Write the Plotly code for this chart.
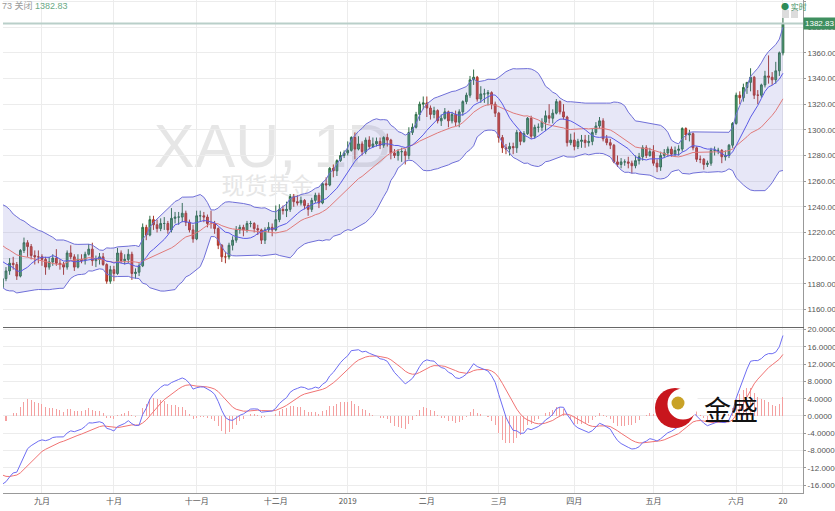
import plotly.graph_objects as go
import pandas as pd

# ---------------- data (XAU/USD daily) ----------------
# closes before the first visible bar (Jun 1 - Aug 15 2018), used only to warm up indicators
prior_closes = [1294, 1292, 1295, 1298, 1298, 1298, 1299, 1294, 1299, 1302, 1278, 1279, 1275, 1268,
                1263, 1270, 1267, 1258, 1252, 1248, 1253,
                1242, 1253, 1253, 1257, 1255, 1258, 1255, 1246, 1245, 1241, 1240, 1227, 1224, 1224,
                1231, 1224, 1227, 1231, 1223, 1222, 1220, 1223,
                1218, 1213, 1214, 1208, 1209, 1212, 1211, 1212, 1194, 1193, 1174]

# (open, high, low, close) per trading day
aug_2018 = [(1174, 1185, 1167, 1177), (1177, 1188, 1173, 1184), (1184, 1193, 1182, 1190), (1190, 1200, 1187, 1196),
            (1196, 1201, 1191, 1195), (1195, 1197, 1183, 1186), (1186, 1207, 1185, 1206), (1206, 1216, 1204, 1212),
            (1212, 1214, 1201, 1209), (1209, 1211, 1199, 1202), (1202, 1206, 1195, 1201), (1201, 1206, 1196, 1201)]
sep_2018 = [(1201, 1203, 1194, 1199), (1199, 1201, 1187, 1193), (1193, 1201, 1191, 1197), (1197, 1203, 1194, 1200),
            (1200, 1207, 1194, 1196), (1196, 1199, 1191, 1195), (1195, 1197, 1187, 1193), (1193, 1206, 1191, 1204),
            (1204, 1210, 1199, 1201), (1201, 1203, 1190, 1193), (1193, 1203, 1192, 1199), (1199, 1203, 1196, 1198),
            (1198, 1205, 1195, 1203), (1203, 1211, 1202, 1207), (1207, 1212, 1194, 1198), (1198, 1202, 1193, 1199),
            (1199, 1204, 1195, 1201), (1201, 1204, 1194, 1195), (1195, 1196, 1180, 1182), (1182, 1194, 1180, 1191)]
oct_2018 = [(1191, 1194, 1182, 1188), (1188, 1208, 1187, 1204), (1204, 1206, 1196, 1198), (1198, 1203, 1195, 1199),
            (1199, 1207, 1196, 1203), (1203, 1205, 1183, 1188), (1188, 1192, 1184, 1189), (1189, 1196, 1186, 1194),
            (1194, 1227, 1193, 1224), (1224, 1226, 1214, 1218), (1218, 1233, 1217, 1230), (1230, 1233, 1222, 1226),
            (1226, 1230, 1220, 1223), (1223, 1231, 1221, 1227), (1227, 1232, 1222, 1227), (1227, 1229, 1219, 1222),
            (1222, 1239, 1220, 1231), (1231, 1236, 1227, 1232), (1232, 1236, 1226, 1232), (1232, 1243, 1228, 1235),
            (1235, 1237, 1225, 1228), (1228, 1230, 1220, 1222), (1222, 1226, 1212, 1215)]
nov_2018 = [(1215, 1237, 1214, 1233), (1233, 1237, 1229, 1233), (1233, 1236, 1228, 1232), (1232, 1234, 1224, 1227),
            (1227, 1237, 1223, 1227), (1227, 1229, 1219, 1223), (1223, 1224, 1207, 1210), (1210, 1211, 1197, 1201),
            (1201, 1205, 1196, 1201), (1201, 1212, 1199, 1210), (1210, 1217, 1206, 1214), (1214, 1225, 1212, 1222),
            (1222, 1226, 1219, 1224), (1224, 1226, 1217, 1222), (1222, 1229, 1220, 1227), (1227, 1229, 1224, 1227),
            (1227, 1228, 1220, 1223), (1223, 1226, 1218, 1222), (1222, 1223, 1211, 1214), (1214, 1224, 1211, 1222),
            (1222, 1228, 1220, 1224), (1224, 1227, 1217, 1222)]
dec_2018 = [(1222, 1241, 1221, 1230), (1230, 1242, 1228, 1238), (1238, 1241, 1234, 1237), (1237, 1244, 1232, 1238),
            (1238, 1250, 1236, 1248), (1248, 1250, 1240, 1244), (1244, 1249, 1241, 1243), (1243, 1248, 1241, 1245),
            (1245, 1246, 1238, 1241), (1241, 1243, 1233, 1238), (1238, 1247, 1236, 1245), (1245, 1251, 1243, 1249),
            (1249, 1251, 1239, 1243), (1243, 1259, 1242, 1258), (1258, 1263, 1253, 1257), (1257, 1271, 1256, 1270),
            (1270, 1273, 1263, 1268), (1268, 1277, 1264, 1276), (1276, 1283, 1275, 1280), (1280, 1284, 1278, 1282)]
jan_2019 = [(1282, 1291, 1280, 1284), (1284, 1295, 1283, 1294), (1294, 1298, 1277, 1285), (1285, 1295, 1284, 1289),
            (1289, 1291, 1280, 1283), (1283, 1294, 1281, 1292), (1292, 1295, 1285, 1287), (1287, 1294, 1286, 1289),
            (1289, 1294, 1287, 1291), (1291, 1294, 1285, 1288), (1288, 1295, 1286, 1294), (1294, 1297, 1287, 1292),
            (1292, 1293, 1277, 1282), (1282, 1285, 1278, 1280), (1280, 1285, 1276, 1283), (1283, 1286, 1275, 1283),
            (1283, 1285, 1273, 1280), (1280, 1302, 1277, 1298), (1298, 1305, 1296, 1302), (1302, 1314, 1301, 1312),
            (1312, 1322, 1307, 1320), (1320, 1326, 1316, 1321)]
feb_2019 = [(1321, 1326, 1310, 1317), (1317, 1319, 1308, 1312), (1312, 1318, 1309, 1315), (1315, 1316, 1305, 1307),
            (1307, 1312, 1303, 1309), (1309, 1317, 1308, 1314), (1314, 1315, 1302, 1307), (1307, 1314, 1305, 1312),
            (1312, 1315, 1303, 1306), (1306, 1316, 1302, 1314), (1314, 1323, 1311, 1322), (1322, 1329, 1320, 1327),
            (1327, 1342, 1325, 1339), (1339, 1347, 1335, 1341), (1341, 1342, 1322, 1324), (1324, 1334, 1321, 1328),
            (1328, 1332, 1321, 1328), (1328, 1331, 1319, 1329), (1329, 1330, 1316, 1320), (1320, 1322, 1310, 1313)]
mar_2019 = [(1313, 1314, 1290, 1294), (1294, 1296, 1282, 1286), (1286, 1289, 1281, 1285), (1285, 1290, 1280, 1287),
            (1287, 1290, 1281, 1286), (1286, 1300, 1282, 1298), (1298, 1299, 1288, 1291), (1291, 1299, 1290, 1297),
            (1297, 1310, 1296, 1309), (1309, 1311, 1293, 1295), (1295, 1304, 1293, 1302), (1302, 1305, 1298, 1302),
            (1302, 1309, 1299, 1306), (1306, 1315, 1299, 1311), (1311, 1320, 1305, 1309), (1309, 1316, 1305, 1313),
            (1313, 1324, 1312, 1322), (1322, 1323, 1312, 1314), (1314, 1320, 1308, 1310), (1310, 1311, 1287, 1290),
            (1290, 1297, 1288, 1292)]
apr_2019 = [(1292, 1298, 1284, 1287), (1287, 1293, 1285, 1291), (1291, 1296, 1286, 1292), (1292, 1296, 1286, 1290),
            (1290, 1296, 1287, 1291), (1291, 1301, 1288, 1298), (1298, 1306, 1296, 1303), (1303, 1310, 1301, 1307),
            (1307, 1309, 1291, 1293), (1293, 1296, 1288, 1290), (1290, 1293, 1285, 1288), (1288, 1289, 1274, 1275),
            (1275, 1280, 1271, 1273), (1273, 1278, 1270, 1275), (1275, 1277, 1272, 1275), (1275, 1279, 1270, 1274),
            (1274, 1276, 1266, 1272), (1272, 1280, 1270, 1276), (1276, 1282, 1273, 1279), (1279, 1288, 1276, 1286),
            (1286, 1288, 1278, 1280), (1280, 1286, 1279, 1283)]
may_2019 = [(1283, 1288, 1272, 1274), (1274, 1277, 1267, 1271), (1271, 1283, 1268, 1280), (1280, 1285, 1278, 1282),
            (1282, 1287, 1279, 1285), (1285, 1287, 1279, 1281), (1281, 1287, 1279, 1284), (1284, 1288, 1280, 1285),
            (1285, 1302, 1283, 1301), (1301, 1302, 1292, 1296), (1296, 1300, 1291, 1297), (1297, 1298, 1284, 1286),
            (1286, 1287, 1275, 1277), (1277, 1280, 1274, 1277), (1277, 1278, 1269, 1273), (1273, 1276, 1271, 1274),
            (1274, 1286, 1272, 1284), (1284, 1287, 1280, 1284), (1284, 1286, 1281, 1284), (1284, 1285, 1274, 1279),
            (1279, 1284, 1276, 1280), (1280, 1289, 1278, 1288), (1288, 1306, 1286, 1305)]
jun_2019 = [(1305, 1329, 1304, 1327), (1327, 1330, 1320, 1325), (1325, 1336, 1322, 1333), (1333, 1337, 1328, 1337),
            (1337, 1348, 1330, 1341), (1341, 1342, 1324, 1327), (1327, 1331, 1320, 1327), (1327, 1336, 1325, 1335),
            (1335, 1346, 1333, 1342), (1342, 1358, 1336, 1341), (1341, 1345, 1335, 1339), (1339, 1353, 1336, 1346),
            (1346, 1361, 1342, 1360), (1360, 1389, 1358, 1382.83)]

months = [aug_2018, sep_2018, oct_2018, nov_2018, dec_2018, jan_2019, feb_2019,
          mar_2019, apr_2019, may_2019, jun_2019]
month_labels = ["九月", "十月", "十一月", "十二月", "2019", "二月", "三月", "四月", "五月", "六月"]
last_day_label = "20"

price_ticks = [1160, 1180, 1200, 1220, 1240, 1260, 1280, 1300, 1320, 1340, 1360, 1380, 1400]
macd_ticks = [-16, -12, -8, -4, 0, 4, 8, 12, 16, 20]

# ---------------- assemble ----------------
bars = [b for m in months for b in m]
opens = [b[0] for b in bars]
highs = [b[1] for b in bars]
lows = [b[2] for b in bars]
closes = [b[3] for b in bars]
xs = list(range(len(bars)))

month_start_idx = []
n = 0
for m in months[:-1]:
    n += len(m)
    month_start_idx.append(n)
tickvals = month_start_idx + [len(bars) - 1]
ticktext = month_labels + [last_day_label]

all_close = pd.Series(prior_closes + closes, dtype=float)
all_x = list(range(-len(prior_closes), len(bars)))
ma20 = all_close.rolling(20).mean()
sd20 = all_close.rolling(20).std(ddof=0)
upper = ma20 + 2 * sd20
lower = ma20 - 2 * sd20
ma10 = all_close.rolling(10).mean()
ema12 = all_close.ewm(span=12, adjust=False).mean()
ema26 = all_close.ewm(span=26, adjust=False).mean()
macd = ema12 - ema26
signal = macd.ewm(span=9, adjust=False).mean()
hist = macd - signal

BAND = "#6f6fd8"
FILL = "rgba(120,120,210,0.18)"
MID = "#e07a7a"

fig = go.Figure()
fig.add_trace(go.Scatter(x=all_x, y=upper, mode="lines", line=dict(color=BAND, width=1),
                         hoverinfo="skip", xaxis="x", yaxis="y"))
fig.add_trace(go.Scatter(x=all_x, y=lower, mode="lines", line=dict(color=BAND, width=1),
                         fill="tonexty", fillcolor=FILL, hoverinfo="skip", xaxis="x", yaxis="y"))
fig.add_trace(go.Scatter(x=all_x, y=ma20, mode="lines", line=dict(color=MID, width=1),
                         hoverinfo="skip", xaxis="x", yaxis="y"))
fig.add_trace(go.Scatter(x=all_x, y=ma10, mode="lines", line=dict(color="#5a5ae6", width=1),
                         hoverinfo="skip", xaxis="x", yaxis="y"))
fig.add_trace(go.Candlestick(x=xs, open=opens, high=highs, low=lows, close=closes,
                             increasing=dict(line=dict(color="#2f6e47", width=1), fillcolor="#4ea56f"),
                             decreasing=dict(line=dict(color="#a8362a", width=1), fillcolor="#e2432f"),
                             whiskerwidth=0, hoverinfo="skip", xaxis="x", yaxis="y"))

fig.add_trace(go.Bar(x=all_x, y=hist, marker=dict(color="#f4a0a0", line=dict(width=0)), width=0.28,
                     hoverinfo="skip", xaxis="x2", yaxis="y2"))
fig.add_trace(go.Scatter(x=all_x, y=signal, mode="lines", line=dict(color="#f07373", width=1),
                         hoverinfo="skip", xaxis="x2", yaxis="y2"))
fig.add_trace(go.Scatter(x=all_x, y=macd, mode="lines", line=dict(color="#6d6df2", width=1),
                         hoverinfo="skip", xaxis="x2", yaxis="y2"))

W, H = 835, 511
ML, MR, MT, MB = 3, 32, 0, 18
PW, PH = W - ML - MR, H - MT - MB
sep_px = 326.5
main_dom = [1 - sep_px / PH, 1]
macd_dom = [0, 1 - (sep_px + 1) / PH]

xr = [(ML + 1.2) / 3.597, (ML + PW + 1.2) / 3.597]
GRID = "#ececec"
AX = "#999999"
tickfont = dict(size=8, color="#555", family="Liberation Sans, Arial, sans-serif")

common_x = dict(range=xr, tickvals=tickvals, showgrid=True, gridcolor=GRID, gridwidth=1,
                zeroline=False, showline=True, linewidth=1, ticks="",
                rangeslider=dict(visible=False), fixedrange=True, automargin=False)
fig.update_layout(
    width=W, height=H, margin=dict(l=ML, r=MR, t=MT, b=MB, autoexpand=False),
    paper_bgcolor="white", plot_bgcolor="white", showlegend=False, hovermode=False,
    bargap=0,
    font=dict(family="Liberation Sans, Noto Sans CJK SC, sans-serif"),
    xaxis=dict(domain=[0, 1], anchor="y", showticklabels=False, linecolor="#666", **common_x),
    xaxis2=dict(domain=[0, 1], anchor="y2", matches="x", ticktext=ticktext, showticklabels=True,
                linecolor=AX,
                tickfont=dict(size=8, color="#555", family="Noto Sans CJK SC, Liberation Sans"), **common_x),
    yaxis=dict(domain=main_dom, anchor="x", side="right", range=[1146.7, 1401.2],
               tickvals=price_ticks, ticktext=[f"{v:.2f}" for v in price_ticks],
               showgrid=True, gridcolor=GRID, zeroline=False, showline=True, linecolor=AX,
               ticks="outside", ticklen=2, tickcolor=AX, tickfont=tickfont, fixedrange=True,
               automargin=False),
    yaxis2=dict(domain=macd_dom, anchor="x2", side="right", range=[-17.85, 20.5],
                tickvals=macd_ticks, ticktext=[f"{v:.4f}" for v in macd_ticks],
                showgrid=True, gridcolor=GRID, zeroline=False, showline=True, linecolor=AX,
                ticks="outside", ticklen=2, tickcolor=AX, tickfont=tickfont, fixedrange=True,
                automargin=False),
)


def px_x(p):
    return (p - ML) / PW


def px_y(p):
    return 1 - (p - MT) / PH


shapes = []
# watermark (below traces)
shapes.append(dict(type="rect", xref="paper", yref="paper", x0=px_x(140), x1=px_x(405),
                   y0=px_y(170), y1=px_y(110), line=dict(width=0), fillcolor="rgba(0,0,0,0)", layer="below",
                   label=dict(text="XAU, 1D", font=dict(size=61, color="#e6e6e6", family="Liberation Sans"),
                              textposition="middle center")))
shapes.append(dict(type="rect", xref="paper", yref="paper", x0=px_x(200), x1=px_x(335),
                   y0=px_y(202), y1=px_y(174), line=dict(width=0), fillcolor="rgba(0,0,0,0)", layer="below",
                   label=dict(text="现货黄金", font=dict(size=23, color="#e6e6e6", family="Noto Sans CJK SC"),
                              textposition="middle center")))
# last price line
shapes.append(dict(type="line", xref="paper", yref="y", x0=0, x1=1, y0=closes[-1], y1=closes[-1],
                   line=dict(color="#b9cfc9", width=2), layer="above"))


def circle(cx, cy, r, color):
    return dict(type="circle", xref="paper", yref="paper", x0=px_x(cx - r), x1=px_x(cx + r),
                y0=px_y(cy + r), y1=px_y(cy - r), fillcolor=color, line=dict(width=0), layer="above")


# logo
shapes.append(circle(675, 408, 20, "#c8161d"))
shapes.append(circle(683, 404, 15.5, "white"))
shapes.append(circle(678, 403, 6.5, "#c9a227"))
# pause icons top-right
for x0 in (782, 791):
    shapes.append(dict(type="rect", xref="paper", yref="paper", x0=px_x(x0), x1=px_x(x0 + 7),
                       y0=px_y(18), y1=px_y(10), fillcolor="#dcdcdc", line=dict(width=0), layer="above"))
fig.update_layout(shapes=shapes)

ann = []
ann.append(dict(xref="paper", yref="y", x=1.0, y=closes[-1], xanchor="left", yanchor="middle",
                text=f"{closes[-1]:.2f}", showarrow=False, bgcolor="#3f8f5f", borderpad=1,
                font=dict(size=8, color="white", family="Liberation Sans")))
ann.append(dict(xref="paper", yref="paper", x=px_x(0), y=px_y(-2), xanchor="left", yanchor="top",
                text="<span style='color:#9a9a9a'>73 关闭</span> <span style='color:#6aa985'>%.2f</span>" % closes[-1],
                showarrow=False, font=dict(size=9, family="Liberation Sans, Noto Sans CJK SC")))
ann.append(dict(xref="paper", yref="paper", x=px_x(779), y=px_y(-1), xanchor="left", yanchor="top",
                text="<span style='color:#2e8b57'>●</span> <span style='color:#3f8f5f'>实时</span>",
                showarrow=False, font=dict(size=8, family="Noto Sans CJK SC")))
ann.append(dict(xref="paper", yref="paper", x=px_x(731), y=px_y(408), xanchor="center", yanchor="middle",
                text="金盛", showarrow=False,
                font=dict(size=27, color="#111", family="Noto Sans CJK SC")))
fig.update_layout(annotations=ann)

fig.write_html("out.html", config={"displayModeBar": False, "staticPlot": True},
               post_script="document.body.style.margin='0';document.body.style.overflow='hidden';")
